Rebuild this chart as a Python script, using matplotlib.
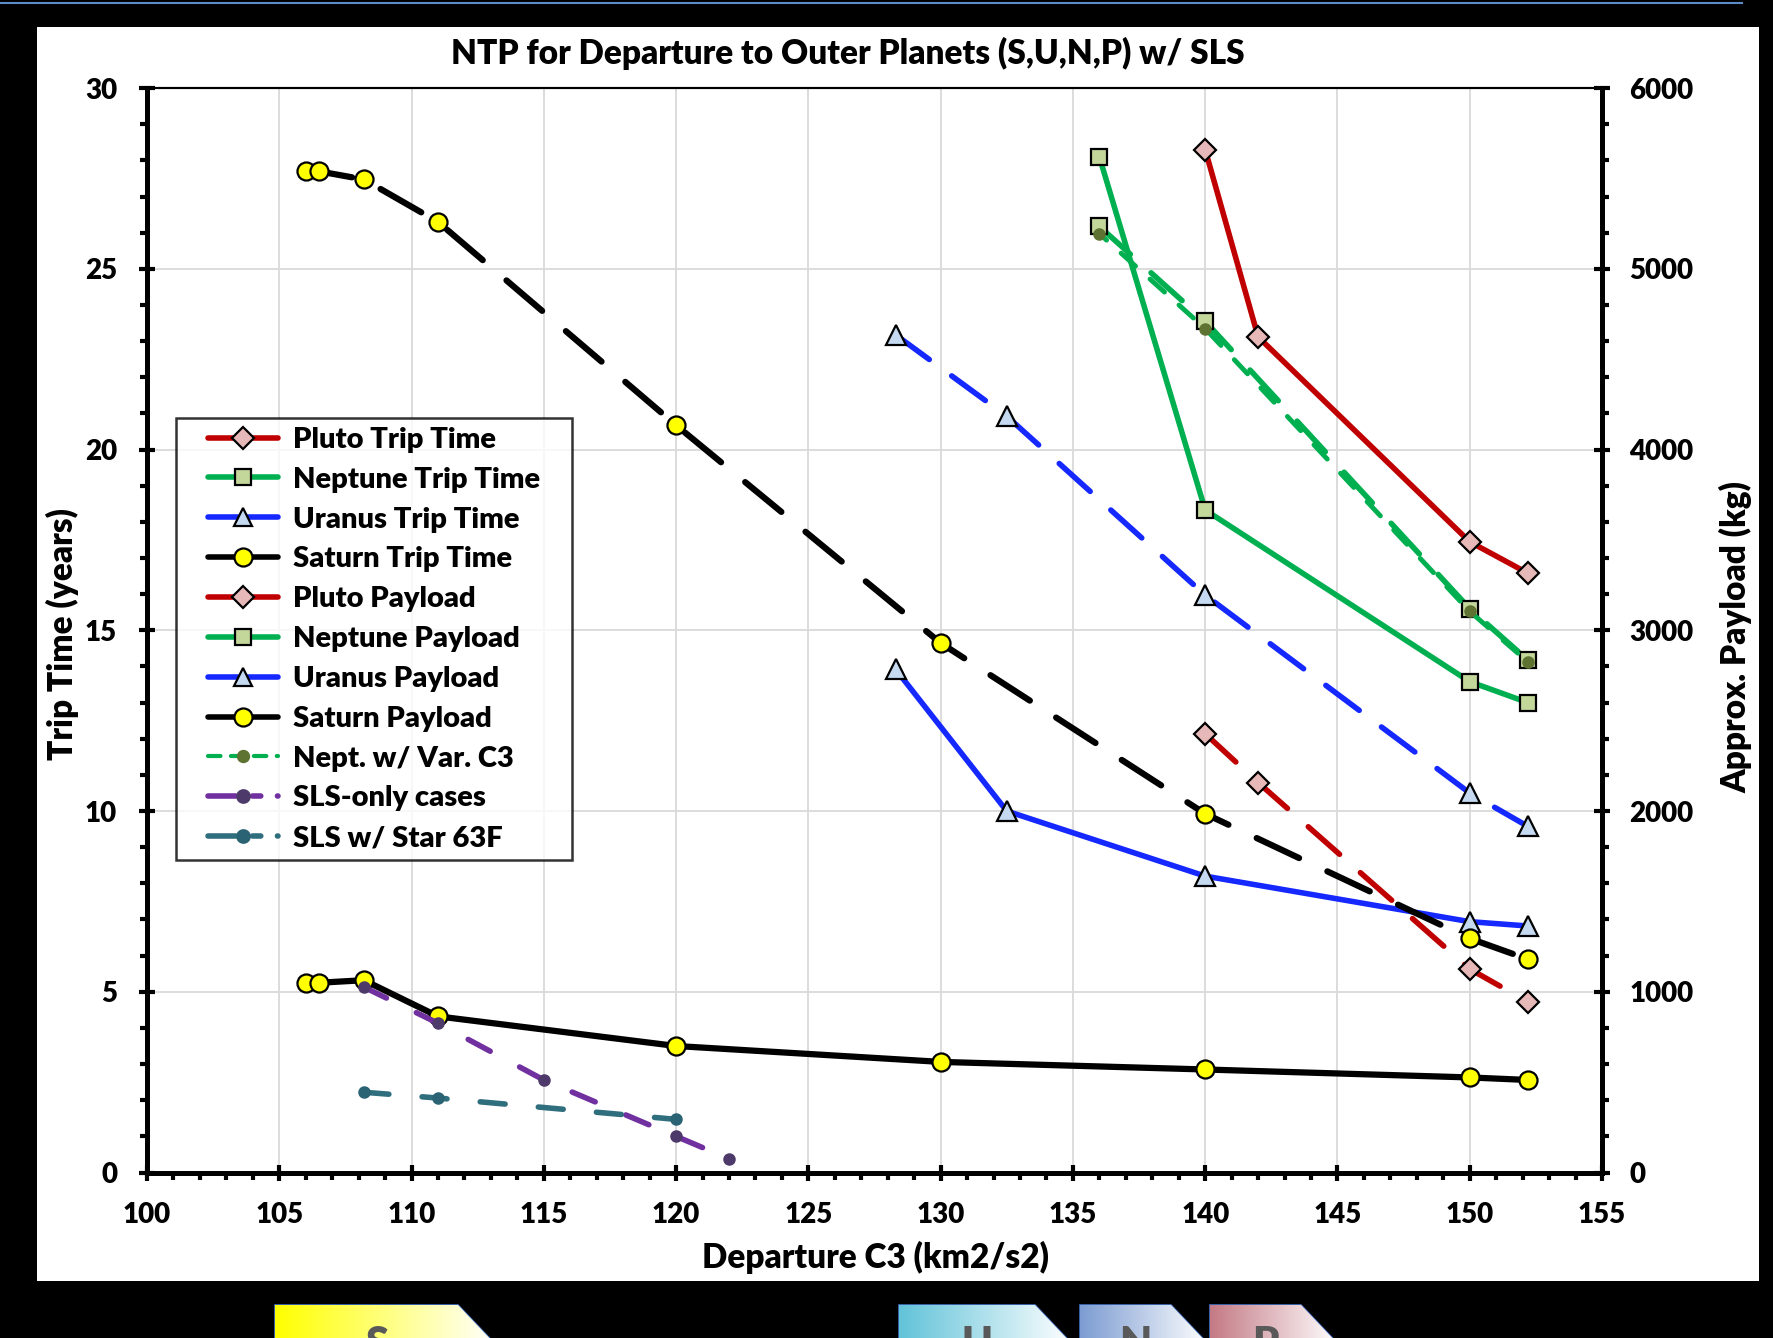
import matplotlib
matplotlib.use("Agg")
import matplotlib.pyplot as plt
from matplotlib.lines import Line2D
from matplotlib.legend_handler import HandlerLine2D
from matplotlib.patches import Rectangle, Polygon
import numpy as np

plt.rcParams["font.family"] = ["Lato", "DejaVu Sans"]
plt.rcParams["font.weight"] = "heavy"

# ---- data (trip time in years, payload in kg) ----
saturn_c3 = [106.0, 106.5, 108.2, 111.0, 120.0, 130.0, 140.0, 150.0, 152.2]
saturn_trip = [5.25, 5.25, 5.32, 4.32, 3.50, 3.06, 2.85, 2.63, 2.56]
saturn_payload = [5540, 5540, 5495, 5260, 4135, 2930, 1985, 1295, 1180]

uranus_c3 = [128.3, 132.5, 140.0, 150.0, 152.2]
uranus_trip = [13.92, 10.0, 8.2, 6.94, 6.82]
uranus_payload = [4635, 4185, 3195, 2100, 1915]

neptune_c3 = [136.0, 140.0, 150.0, 152.2]
neptune_trip = [28.1, 18.33, 13.58, 13.0]
neptune_payload = [5235, 4710, 3120, 2835]
nept_var_payload = [5195, 4670, 3105, 2825]

pluto_c3 = [140.0, 142.0, 150.0, 152.2]
pluto_trip = [28.3, 23.12, 17.45, 16.58]
pluto_payload = [2428, 2158, 1126, 944]

sls_only_c3 = [108.2, 111.0, 115.0, 120.0, 122.0]
sls_only_payload = [1026, 826, 512, 200, 76]

sls_star_c3 = [108.2, 111.0, 120.0]
sls_star_payload = [444, 412, 294]

x_ticks = [100, 105, 110, 115, 120, 125, 130, 135, 140, 145, 150, 155]
trip_ticks = [0, 5, 10, 15, 20, 25, 30]
payload_ticks = [0, 1000, 2000, 3000, 4000, 5000, 6000]

RED, GREEN, BLUE, PURPLE, TEAL = "#C00000", "#00B050", "#1428FF", "#7030A0", "#2F6E7D"
DIAM_FC, SQ_FC, TRI_FC, CIRC_FC = "#E6B8B7", "#C4D79B", "#C5D9F1", "#FFFF00"
LONG_DASH = (0, (7.5, 5))
W, H = 1773, 1338

fig = plt.figure(figsize=(W / 100, H / 100), dpi=100, facecolor="black")

# background: white panel, blue top rule, planet tabs at the bottom
bg = fig.add_axes([0, 0, 1, 1], zorder=-10)
bg.set_xlim(0, W)
bg.set_ylim(H, 0)
bg.axis("off")
bg.add_patch(Rectangle((37, 27), 1722, 1254, facecolor="white", edgecolor="none"))
bg.plot([0, 1742], [3, 3], color="#5B8BC8", lw=1.5)
tabs = [("S", 275, 458, "#FFFF00"), ("U", 899, 1035, "#62C3D9"),
        ("N", 1080, 1171, "#7C9CD2"), ("P", 1210, 1301, "#C47A85")]
for letter, x0, x1, col in tabs:
    poly = Polygon([(x0, 1345), (x0, 1305), (x1, 1305), (x1 + 38, 1345)], closed=True,
                   facecolor="none", edgecolor="#4472C4", lw=1.2)
    bg.add_patch(poly)
    c0 = np.array(matplotlib.colors.to_rgb(col))
    t = np.linspace(0, 1, 200)[None, :, None]
    grad = c0 * (1 - t) + np.ones(3) * t
    im = bg.imshow(grad, extent=(x0, x1 + 38, 1345, 1305), aspect="auto", zorder=1)
    im.set_clip_path(poly)
    # tab letters are cut by the lower edge, as in the source slide
    bg.text((x0 + x1) / 2 + 10, 1325, letter, color="#595959", fontsize=30,
            ha="center", va="top", zorder=2)

ax = fig.add_axes([147 / W, 1 - 1172.5 / H, 1455 / W, 1084.3 / H])
ax2 = ax.twinx()

lk = dict(solid_capstyle="round", dash_capstyle="round", solid_joinstyle="round", mec="black", mew=1.6)

# trip times (left axis)
ax.plot(pluto_c3, pluto_trip, color=RED, lw=4, marker="D", ms=11, mfc=DIAM_FC, **lk)
ax.plot(neptune_c3, neptune_trip, color=GREEN, lw=4, marker="s", ms=11, mfc=SQ_FC, **lk)
ax.plot(uranus_c3, uranus_trip, color=BLUE, lw=4, marker="^", ms=14, mfc=TRI_FC, **lk)
ax.plot(saturn_c3, saturn_trip, color="black", lw=4.5, marker="o", ms=13, mfc=CIRC_FC, **lk)

# payloads (right axis)
ax2.plot(pluto_c3, pluto_payload, color=RED, lw=4, ls=LONG_DASH, marker="D", ms=11, mfc=DIAM_FC, **lk)
ax2.plot(neptune_c3, neptune_payload, color=GREEN, lw=4, ls=LONG_DASH, marker="s", ms=11, mfc=SQ_FC, **lk)
ax2.plot(uranus_c3, uranus_payload, color=BLUE, lw=4, ls=LONG_DASH, marker="^", ms=14, mfc=TRI_FC, **lk)
ax2.plot(saturn_c3, saturn_payload, color="black", lw=4.5, ls=LONG_DASH, marker="o", ms=13, mfc=CIRC_FC, **lk)
ax2.plot(neptune_c3, nept_var_payload, color=GREEN, lw=3.5, ls=(2, (4, 4)), marker="o", ms=8,
         mfc="#5E7232", mec="#5E7232", solid_capstyle="round", dash_capstyle="round")
ax2.plot(sls_only_c3, sls_only_payload, color=PURPLE, lw=4, ls=(0, (4.5, 6)), marker="o", ms=8,
         mfc="#4E3A6A", mec="#4E3A6A", dash_capstyle="round")
ax2.plot(sls_star_c3, sls_star_payload, color=TEAL, lw=4, ls=(0, (4.5, 6)), marker="o", ms=8,
         mfc="#2A6474", mec="#2A6474", dash_capstyle="round")

ax.set_xlim(100, 155)
ax.set_ylim(0, 30)
ax2.set_ylim(0, 6000)
ax.set_xticks(x_ticks)
ax.set_xticks(np.arange(100, 156, 1), minor=True)
ax.set_yticks(trip_ticks)
ax.set_yticks(np.arange(0, 31, 1), minor=True)
ax2.set_yticks(payload_ticks)
ax2.set_yticks(np.arange(0, 6001, 200), minor=True)
ax.grid(True, which="major", color="#D9D9D9", lw=1.3)
ax.set_axisbelow(True)

for a in (ax, ax2):
    for side in ("left", "right", "bottom"):
        a.spines[side].set_linewidth(3.5)
    a.spines["top"].set_linewidth(1.5)
ax.tick_params(which="major", direction="inout", length=11, width=3, labelsize=20)
ax.tick_params(which="minor", direction="out", length=5, width=3)
ax.tick_params(axis="y", which="major", pad=16)
ax.tick_params(axis="x", which="major", pad=16)
ax2.tick_params(which="major", direction="inout", length=11, width=3, labelsize=20, pad=14)
ax2.tick_params(which="minor", direction="out", length=5, width=3)

fig.text(848 / W, 1 - 53 / H, "NTP for Departure to Outer Planets (S,U,N,P) w/ SLS",
         ha="center", va="center", fontsize=24)
fig.text(875 / W, 1 - 1257 / H, "Departure C3 (km2/s2)", ha="center", va="center",
         fontsize=24)
fig.text(62 / W, 1 - 634 / H, "Trip Time (years)", rotation=90, ha="center", va="center",
         fontsize=24)
fig.text(1736 / W, 1 - 637 / H, "Approx. Payload (kg)", rotation=90, ha="center", va="center",
         fontsize=24)

# legend
def proxy(color, marker, mfc, ms, ls="-", lw=4, mec="black"):
    return Line2D([], [], color=color, lw=lw, ls=ls, marker=marker, ms=ms, mfc=mfc,
                  mec=mec, mew=1.6, solid_capstyle="round", dash_capstyle="round")

handles = [
    proxy(RED, "D", DIAM_FC, 11), proxy(GREEN, "s", SQ_FC, 11),
    proxy(BLUE, "^", TRI_FC, 13), proxy("black", "o", CIRC_FC, 13),
    proxy(RED, "D", DIAM_FC, 11), proxy(GREEN, "s", SQ_FC, 11),
    proxy(BLUE, "^", TRI_FC, 13), proxy("black", "o", CIRC_FC, 13),
    proxy(GREEN, "o", "#5E7232", 8, ls=(0, (3, 2.5)), lw=3, mec="#5E7232"),
    proxy(PURPLE, "o", "#4E3A6A", 9, ls=(0, (5, 3, 1.5, 3)), mec="#4E3A6A"),
    proxy(TEAL, "o", "#2A6474", 9, ls=(0, (5, 3, 1.5, 3)), mec="#2A6474"),
]
labels = ["Pluto Trip Time", "Neptune Trip Time", "Uranus Trip Time", "Saturn Trip Time",
          "Pluto Payload", "Neptune Payload", "Uranus Payload", "Saturn Payload",
          "Nept. w/ Var. C3", "SLS-only cases", "SLS w/ Star 63F"]
leg = ax2.legend(handles, labels, loc="upper left", bbox_to_anchor=(0.0199, 0.2919, 0.272, 0.4039),
                 mode="expand", borderaxespad=0, fontsize=21, frameon=True, fancybox=False,
                 edgecolor="black", handlelength=3.2, handletextpad=0.5,
                 labelspacing=0.475, borderpad=0.3,
                 handler_map={Line2D: HandlerLine2D(xpad=0.8)})
leg.get_frame().set_linewidth(1.8)

fig.savefig("out.png", dpi=100, facecolor="black")
